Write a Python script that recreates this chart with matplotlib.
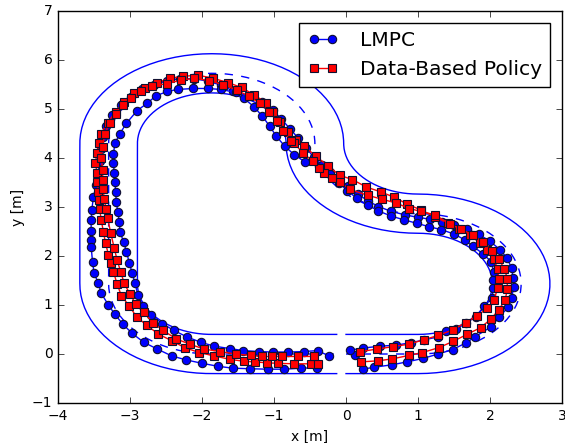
import numpy as np
import matplotlib
matplotlib.use("Agg")
import matplotlib.pyplot as plt

# --- track definition: [segment length, curvature radius] (0 = straight) ---
CURVE_LEN = 4.5
TRACK_SPEC = [[1.0, 0.0],
              [CURVE_LEN, CURVE_LEN / np.pi],
              [CURVE_LEN / 2, -CURVE_LEN / np.pi],
              [CURVE_LEN, CURVE_LEN / np.pi],
              [CURVE_LEN / np.pi * 2, 0.0],
              [CURVE_LEN / 2, CURVE_LEN / np.pi]]
HALF_WIDTH = 0.4

# --- closed-loop trajectories (x, y) ---
lmpc_lap1 = [(0.13, -0.03), (0.23, -0.31), (0.39, -0.27), (0.64, -0.22), (0.85, -0.16),
             (1.07, -0.09), (1.28, 0.00), (1.48, 0.09), (1.67, 0.23), (1.79, 0.35),
             (2.02, 0.56), (2.13, 0.76), (2.25, 0.95), (2.30, 1.15), (2.33, 1.36),
             (2.32, 1.56), (2.30, 1.75), (2.24, 1.95), (2.14, 2.13), (2.00, 2.30),
             (1.85, 2.44), (1.68, 2.55), (1.50, 2.64), (1.34, 2.70), (1.17, 2.75),
             (1.00, 2.79), (0.82, 2.84), (0.63, 2.91), (0.45, 3.01), (0.30, 3.13),
             (0.16, 3.27), (0.03, 3.42), (-0.10, 3.58), (-0.22, 3.72), (-0.38, 3.84),
             (-0.57, 3.92), (-0.72, 4.07), (-0.85, 4.24), (-0.97, 4.45), (-1.06, 4.65),
             (-1.16, 4.85), (-1.28, 5.05), (-1.42, 5.22), (-1.57, 5.37), (-1.74, 5.49),
             (-1.92, 5.57), (-2.11, 5.62), (-2.30, 5.62), (-2.48, 5.58), (-2.67, 5.50),
             (-2.83, 5.40), (-2.98, 5.25), (-3.12, 5.08), (-3.25, 4.88), (-3.33, 4.65),
             (-3.38, 4.42), (-3.41, 4.18), (-3.42, 3.94), (-3.44, 3.70), (-3.47, 3.45),
             (-3.51, 3.20), (-3.53, 2.94), (-3.54, 2.73), (-3.54, 2.51), (-3.54, 2.33),
             (-3.54, 2.19), (-3.52, 1.87), (-3.50, 1.66), (-3.44, 1.44), (-3.40, 1.24),
             (-3.30, 1.00), (-3.21, 0.81), (-3.10, 0.61), (-2.97, 0.42), (-2.81, 0.24),
             (-2.62, 0.10), (-2.42, -0.04), (-2.22, -0.12), (-2.00, -0.19), (-1.78, -0.25),
             (-1.57, -0.29), (-1.34, -0.30), (-1.09, -0.31), (-0.86, -0.31), (-0.63, -0.29),
             (-0.40, -0.28)]

lmpc_lap2 = [(0.06, 0.08), (0.23, 0.12), (0.47, 0.16), (0.69, 0.18), (0.90, 0.23),
             (1.09, 0.29), (1.28, 0.35), (1.39, 0.46), (1.53, 0.51), (1.67, 0.63),
             (1.80, 0.76), (1.92, 0.98), (2.03, 1.14), (2.04, 1.34), (2.04, 1.51),
             (2.05, 1.68), (2.02, 1.88), (1.90, 2.05), (1.76, 2.20), (1.65, 2.33),
             (1.50, 2.45), (1.32, 2.54), (1.15, 2.60), (0.98, 2.67), (0.80, 2.74),
             (0.62, 2.82), (0.45, 2.92), (0.30, 3.04), (0.15, 3.18), (0.02, 3.33),
             (-0.10, 3.50), (-0.22, 3.67), (-0.33, 3.85), (-0.45, 4.02), (-0.55, 4.20),
             (-0.66, 4.40), (-0.78, 4.60), (-0.90, 4.80), (-1.02, 4.98), (-1.17, 5.14),
             (-1.35, 5.27), (-1.53, 5.34), (-1.74, 5.40), (-1.92, 5.42), (-2.12, 5.42),
             (-2.34, 5.40), (-2.48, 5.36), (-2.64, 5.27), (-2.76, 5.12), (-2.90, 4.97),
             (-3.05, 4.71), (-3.14, 4.50), (-3.21, 4.30), (-3.23, 4.09), (-3.23, 3.89),
             (-3.22, 3.70), (-3.21, 3.52), (-3.20, 3.31), (-3.19, 3.10), (-3.17, 2.90),
             (-3.15, 2.70), (-3.14, 2.50), (-3.09, 2.29), (-3.05, 2.09), (-3.01, 1.86),
             (-2.97, 1.65), (-2.93, 1.44), (-2.89, 1.20), (-2.82, 0.98), (-2.71, 0.80),
             (-2.55, 0.62), (-2.39, 0.48), (-2.21, 0.35), (-2.02, 0.24), (-1.83, 0.16),
             (-1.61, 0.11), (-1.43, 0.07), (-1.21, 0.05), (-1.02, 0.04), (-0.80, 0.04),
             (-0.59, 0.05), (-0.39, 0.07), (-0.24, -0.04)]

dbp_lap1 = [(0.20, 0.05), (0.43, 0.10), (0.65, 0.15), (0.87, 0.20), (1.08, 0.29),
            (1.28, 0.38), (1.48, 0.49), (1.66, 0.64), (1.82, 0.78), (1.96, 0.93),
            (2.05, 1.10), (2.11, 1.34), (2.12, 1.54), (2.11, 1.73), (2.05, 1.94),
            (1.96, 2.12), (1.86, 2.27), (1.72, 2.42), (1.57, 2.55), (1.41, 2.67),
            (1.24, 2.80), (1.04, 2.94), (0.85, 3.06), (0.67, 3.20), (0.48, 3.31),
            (0.28, 3.41), (0.09, 3.56), (-0.09, 3.65), (-0.25, 3.84), (-0.42, 4.04),
            (-0.58, 4.24), (-0.70, 4.37), (-0.81, 4.54), (-0.91, 4.74), (-1.01, 4.95),
            (-1.11, 5.13), (-1.28, 5.29), (-1.45, 5.44), (-1.64, 5.54), (-1.85, 5.63),
            (-2.05, 5.69), (-2.26, 5.67), (-2.44, 5.63), (-2.62, 5.54), (-2.79, 5.42),
            (-2.94, 5.32), (-3.08, 5.14), (-3.20, 4.95), (-3.31, 4.72), (-3.40, 4.50),
            (-3.43, 4.30), (-3.46, 4.11), (-3.48, 3.90), (-3.46, 3.70), (-3.46, 3.52),
            (-3.44, 3.31), (-3.43, 3.14), (-3.42, 2.95), (-3.40, 2.73), (-3.37, 2.50),
            (-3.34, 2.26), (-3.30, 2.03), (-3.27, 1.85), (-3.23, 1.68), (-3.18, 1.43),
            (-3.12, 1.19), (-3.01, 0.98), (-2.91, 0.76), (-2.77, 0.59), (-2.61, 0.41),
            (-2.42, 0.27), (-2.24, 0.13), (-2.04, 0.03), (-1.83, -0.04), (-1.61, -0.11),
            (-1.41, -0.15), (-1.27, -0.16), (-1.10, -0.18), (-0.94, -0.19), (-0.72, -0.20),
            (-0.49, -0.20), (-0.39, -0.20)]

dbp_lap2 = [(0.21, -0.16), (0.44, -0.14), (0.64, -0.10), (0.87, -0.03), (1.06, 0.03),
            (1.29, 0.13), (1.49, 0.26), (1.68, 0.40), (1.87, 0.54), (2.01, 0.71),
            (2.12, 0.90), (2.21, 1.10), (2.24, 1.32), (2.24, 1.54), (2.20, 1.74),
            (2.12, 1.94), (2.03, 2.11), (1.90, 2.28), (1.77, 2.42), (1.60, 2.55),
            (1.44, 2.65), (1.24, 2.84), (1.04, 2.91), (0.88, 2.97), (0.70, 3.08),
            (0.50, 3.16), (0.30, 3.24), (0.05, 3.36), (-0.09, 3.52), (-0.20, 3.60),
            (-0.30, 3.69), (-0.37, 3.79), (-0.46, 3.93), (-0.60, 4.11), (-0.72, 4.30),
            (-0.77, 4.35), (-0.87, 4.55), (-0.96, 4.76), (-1.07, 4.95), (-1.20, 5.12),
            (-1.35, 5.26), (-1.52, 5.39), (-1.71, 5.50), (-1.90, 5.58), (-2.11, 5.63),
            (-2.29, 5.59), (-2.49, 5.52), (-2.69, 5.47), (-2.85, 5.36), (-2.98, 5.22),
            (-3.10, 5.08), (-3.20, 4.90), (-3.28, 4.72), (-3.35, 4.50), (-3.38, 4.22),
            (-3.40, 4.00), (-3.38, 3.76), (-3.38, 3.55), (-3.37, 3.36), (-3.36, 3.16),
            (-3.33, 2.95), (-3.31, 2.77), (-3.27, 2.48), (-3.22, 2.17), (-3.18, 1.92),
            (-3.13, 1.68), (-3.08, 1.44), (-3.00, 1.22), (-2.92, 1.02), (-2.81, 0.85),
            (-2.68, 0.64), (-2.54, 0.48), (-2.36, 0.31), (-2.17, 0.20), (-1.97, 0.10),
            (-1.75, 0.05), (-1.53, 0.00), (-1.32, -0.03), (-1.17, -0.05), (-1.03, -0.05),
            (-0.89, -0.05), (-0.66, -0.05), (-0.44, -0.05)]


def walk_segments(spec):
    """Start point (x, y, heading) of every segment."""
    x, y, psi = 0.0, 0.0, 0.0
    starts = []
    for length, radius in spec:
        starts.append((x, y, psi))
        if radius == 0:
            x += length * np.cos(psi)
            y += length * np.sin(psi)
        else:
            cx, cy = x - radius * np.sin(psi), y + radius * np.cos(psi)
            psi += length / radius
            x, y = cx + radius * np.sin(psi), cy - radius * np.cos(psi)
    return starts, (x, y, psi)


# close the loop with a final straight back to the origin
_, (xe, ye, _) = walk_segments(TRACK_SPEC)
spec = TRACK_SPEC + [[np.hypot(xe, ye), 0.0]]
seg_starts, _ = walk_segments(spec)


def global_position(s, ey):
    """Curvilinear (s, ey) -> (x, y) on the track."""
    for (length, radius), (x, y, psi) in zip(spec, seg_starts):
        if s <= length:
            break
        s -= length
    if radius == 0:
        return (x + s * np.cos(psi) - ey * np.sin(psi),
                y + s * np.sin(psi) + ey * np.cos(psi))
    cx, cy = x - radius * np.sin(psi), y + radius * np.cos(psi)
    p = psi + s / radius
    return cx + (radius - ey) * np.sin(p), cy - (radius - ey) * np.cos(p)


track_len = sum(seg[0] for seg in spec)
n_pts = int(np.floor(10 * track_len))
s_vals = np.arange(n_pts) * 0.1
center = np.array([global_position(s, 0.0) for s in s_vals])
left = np.array([global_position(s, HALF_WIDTH) for s in s_vals])
right = np.array([global_position(s, -HALF_WIDTH) for s in s_vals])

plt.style.use("classic")
plt.rcParams["font.family"] = ["DejaVu Sans"]

fig = plt.figure(figsize=(5.65, 4.43), dpi=100, facecolor="white")
ax = fig.add_axes([0.1027, 0.0903, 0.8920, 0.8847])
ax.set_facecolor("white")

ax.plot(center[:, 0], center[:, 1], "--b", lw=1.0)
ax.plot(left[:, 0], left[:, 1], "-b", lw=1.0)
ax.plot(right[:, 0], right[:, 1], "-b", lw=1.0)

mk = dict(markersize=6, markeredgecolor="#101030", markeredgewidth=0.8, lw=1.0)
for i, lap in enumerate([lmpc_lap1, lmpc_lap2]):
    a = np.array(lap)
    ax.plot(a[:, 0], a[:, 1], "-o", color="b", markerfacecolor="b",
            label="LMPC" if i == 0 else None, **mk)
for i, lap in enumerate([dbp_lap1, dbp_lap2]):
    a = np.array(lap)
    ax.plot(a[:, 0], a[:, 1], "-s", color="r", markerfacecolor="r",
            label="Data-Based Policy" if i == 0 else None, **mk)

ax.set_xlim(-4, 3)
ax.set_ylim(-1, 7)
ax.tick_params(labelsize=10)
ax.set_xlabel("x [m]", fontsize=10)
ax.set_ylabel("y [m]", fontsize=10)
ax.legend(loc="upper right", fontsize=14.6, numpoints=2, handlelength=1.5,
          handletextpad=1.1, bbox_to_anchor=(0.977, 0.97), borderaxespad=0.0)

fig.savefig("out.png", dpi=100, facecolor="white")
